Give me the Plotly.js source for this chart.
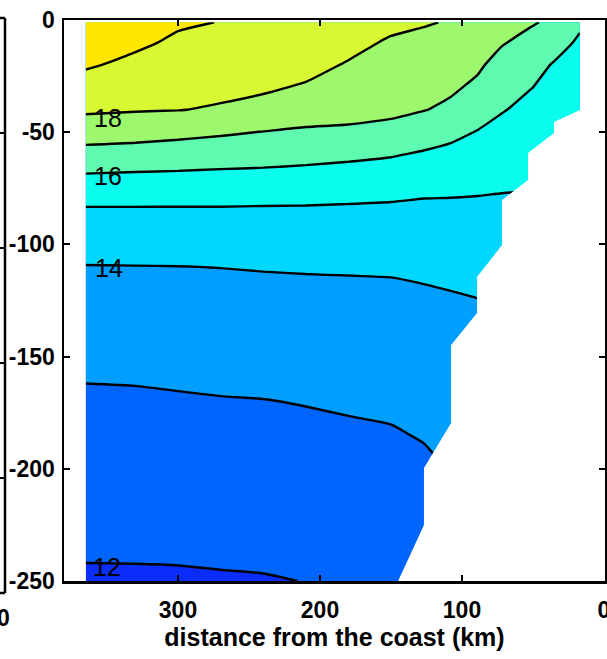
<!DOCTYPE html>
<html><head><meta charset="utf-8">
<script src="https://cdn.plot.ly/plotly-3.0.1.min.js"></script>
<style>html,body{margin:0;padding:0;background:#fff}#chart{width:607px;height:659px}</style>
</head><body><div id="chart"></div>
<script>
// distance from the coast (km) of each data column
const distKm = [365, 330, 300, 270, 240, 210, 180, 150, 127, 108, 89, 72, 53, 35, 17];
// depth (m) of each data row
const depthM = [-1, -10, -20, -30, -40, -50, -60, -70, -80, -90, -100, -110, -125, -140, -155, -170, -185, -200, -215, -230, -250];

// temperature (deg C) profiles, one per column (top to bottom)
const t365 = [19.60, 19.40, 19.10, 18.62, 18.14, 17.44, 16.66, 15.88, 15.22, 14.55, 14.33, 13.97, 13.69, 13.41, 13.13, 12.85, 12.71, 12.52, 12.34, 12.15, 11.90];
const t330 = [19.45, 19.16, 18.79, 18.43, 18.06, 17.37, 16.58, 15.83, 15.21, 14.57, 14.35, 13.98, 13.70, 13.42, 13.15, 12.87, 12.72, 12.53, 12.34, 12.16, 11.90];
const t300 = [19.11, 18.86, 18.57, 18.29, 18.02, 17.25, 16.50, 15.81, 15.20, 14.57, 14.37, 13.99, 13.72, 13.45, 13.18, 12.92, 12.75, 12.55, 12.36, 12.17, 11.91];
const t270 = [18.98, 18.74, 18.47, 18.19, 17.92, 17.12, 16.42, 15.77, 15.19, 14.60, 14.38, 14.01, 13.74, 13.48, 13.21, 12.96, 12.77, 12.57, 12.38, 12.18, 11.94];
const t240 = [18.85, 18.61, 18.35, 18.08, 17.81, 16.97, 16.36, 15.74, 15.17, 14.58, 14.39, 14.04, 13.76, 13.50, 13.25, 12.98, 12.79, 12.60, 12.40, 12.20, 11.96];
const t210 = [18.65, 18.43, 18.19, 17.94, 17.40, 16.88, 16.27, 15.69, 15.15, 14.59, 14.40, 14.06, 13.78, 13.53, 13.28, 13.03, 12.83, 12.63, 12.43, 12.23, 12.01];
const t180 = [18.40, 18.19, 17.95, 17.58, 17.23, 16.88, 16.17, 15.63, 15.10, 14.60, 14.41, 14.07, 13.80, 13.57, 13.33, 13.09, 12.88, 12.68, 12.48, 12.28, 12.05];
const t150 = [18.17, 17.92, 17.65, 17.38, 17.11, 16.84, 16.06, 15.55, 15.05, 14.60, 14.43, 14.11, 13.76, 13.61, 13.38, 13.15, 12.93, 12.73, 12.53, 12.33, 12.07];
const t127 = [18.06, 17.81, 17.54, 17.27, 17.03, 16.44, 15.90, 15.45, 14.98, 14.73, 14.46, 14.19, 13.82, 13.68, 13.47, 13.26, 13.05, 12.84, 12.63, 12.42, 12.14];
const t108 = [17.95, 17.69, 17.41, 17.12, 16.84, 16.22, 15.77, 15.36, 14.97, 14.73, 14.49, 14.25, 13.90, 13.74, 13.56, 13.40, 13.22, 13.04, 12.86, 12.68, 12.44];
const t89  = [17.65, 17.40, 17.12, 16.85, 16.38, 15.96, 15.63, 15.27, 14.95, 14.73, 14.52, 14.30, 13.98, 13.78, 13.60, 13.44, 13.28, 13.12, 12.96, 12.80, 12.58];
const t72  = [17.40, 17.06, 16.72, 16.38, 16.05, 15.75, 15.47, 15.18, 14.93, 14.74, 14.56, 14.37, 14.09, 13.86, 13.66, 13.48, 13.32, 13.16, 13.00, 12.84, 12.62];
const t53  = [17.10, 16.77, 16.41, 16.04, 15.80, 15.58, 15.36, 15.13, 14.93, 14.78, 14.62, 14.45, 14.20, 13.95, 13.75, 13.57, 13.40, 13.23, 13.06, 12.90, 12.68];
const t35  = [16.85, 16.39, 15.92, 15.80, 15.64, 15.48, 15.32, 15.16, 14.99, 14.85, 14.70, 14.55, 14.30, 14.05, 13.85, 13.66, 13.48, 13.30, 13.12, 12.95, 12.72];
const t17  = [16.17, 15.85, 15.75, 15.65, 15.55, 15.44, 15.32, 15.19, 15.06, 14.94, 14.80, 14.65, 14.40, 14.15, 13.95, 13.75, 13.56, 13.37, 13.18, 13.00, 12.76];

// sea floor / coast outline (masked area)
const coastDist   = [16.9, 16.9, 35.2, 35.2, 53.5, 53.5, 71.8, 71.8, 89.4, 89.4, 107.7, 107.7, 126.8, 126.8, 145, 152.3, -5, -5];
const bottomDepth = [5, -40.1, -45.5, -50.4, -59.3, -71.3, -80.2, -100.3, -114.5, -130.6, -144.8, -179.6, -199.6, -225, -250, -260, -260, 5];

// contour levels and their inline labels
const levelStart = 12, levelEnd = 19, levelStep = 1;
const labelText  = ['18', '16', '14', '12'];
const labelDist  = [349, 349, 348.5, 350];
const labelDepth = [-43.8, -69.5, -110.5, -243.6];

// band colours (below 12, 12-13, ..., 18-19, above 19)
const bandColors = ['rgb(10,45,250)', 'rgb(0,100,255)', 'rgb(0,158,255)', 'rgb(0,215,255)',
  'rgb(10,252,238)', 'rgb(94,250,175)', 'rgb(158,248,110)', 'rgb(215,248,50)', 'rgb(255,230,0)'];

const xTickVals = [300, 200, 100, 0];
const xTickText = ['300', '200', '100', '0'];
const yTickVals = [0, -50, -100, -150, -200, -250];
const yTickText = ['0', '-50', '-100', '-150', '-200', '-250'];

const columns = [t365, t330, t300, t270, t240, t210, t180, t150, t127, t108, t89, t72, t53, t35, t17];
const z = depthM.map((d, i) => columns.map(c => c[i]));
const colorscale = bandColors.map((c, k) => [k / (bandColors.length - 1), c]);

const traces = [
  {
    type: 'contour', x: distKm, y: depthM, z: z,
    autocontour: false,
    contours: {start: levelStart, end: levelEnd, size: levelStep, coloring: 'fill', showlines: true},
    line: {color: 'black', width: 2.4, smoothing: 0.5},
    colorscale: colorscale, showscale: false, hoverinfo: 'skip'
  },
  {
    type: 'scatter', mode: 'lines', x: coastDist, y: bottomDepth,
    fill: 'toself', fillcolor: 'white', line: {width: 0, color: 'white'},
    hoverinfo: 'skip', showlegend: false
  }
];

const F = 'Liberation Sans, Arial, Helvetica, sans-serif';
const annotations = labelText.map((t, i) => ({
  x: labelDist[i], y: labelDepth[i], xref: 'x', yref: 'y', text: t, showarrow: false,
  font: {family: F, size: 25, color: 'black'}, xanchor: 'center', yanchor: 'middle'
}));
// neighbouring panel's cut-off tick label
annotations.push({x: -0.1118, y: -0.066, xref: 'paper', yref: 'paper', text: '0', showarrow: false,
  font: {family: F, size: 23, color: 'black', weight: 'bold'}, xanchor: 'center', yanchor: 'middle'});

// neighbouring panel's frame edge (left of this panel)
const nx = -0.10906, nx0 = -0.1220, nxt = -0.1183;
const shapes = [
  {type: 'line', xref: 'paper', yref: 'paper', x0: nx, x1: nx, y0: 1.00357, y1: -0.02139, line: {color: 'black', width: 2.5}},
  {type: 'line', xref: 'paper', yref: 'paper', x0: nx0, x1: nx, y0: 1.00357, y1: 1.00357, line: {color: 'black', width: 2.5}},
  {type: 'line', xref: 'paper', yref: 'paper', x0: nx0, x1: nx, y0: -0.02139, y1: -0.02139, line: {color: 'black', width: 2.5}}
].concat([0.79857, 0.59358, 0.38859, 0.1836].map(v => ({type: 'line', xref: 'paper', yref: 'paper',
  x0: nxt, x1: nx, y0: v, y1: v, line: {color: 'black', width: 2}})));

const axisCommon = {
  tickmode: 'array', ticks: 'inside', ticklen: 6, tickwidth: 2, tickcolor: 'black',
  showline: true, linewidth: 2.5, linecolor: 'black', mirror: 'ticks',
  showgrid: false, zeroline: false, ticklabeloverflow: 'allow',
  tickfont: {family: F, size: 23, color: 'black', weight: 'bold'}
};

const layout = {
  width: 607, height: 659,
  margin: {l: 64, r: 2, t: 20, b: 78},
  paper_bgcolor: 'white', plot_bgcolor: 'white', showlegend: false,
  font: {family: F, color: 'black'},
  xaxis: Object.assign({}, axisCommon, {
    range: [380.3, -0.7], tickvals: xTickVals, ticktext: xTickText, ticklabelstandoff: 7,
    title: {text: 'distance from the coast (km)', font: {family: F, size: 25, color: 'black', weight: 'bold'}, standoff: 6}
  }),
  yaxis: Object.assign({}, axisCommon, {
    range: [-250, 0], tickvals: yTickVals, ticktext: yTickText, ticklabelstandoff: 2
  }),
  annotations: annotations,
  shapes: shapes
};

Plotly.newPlot('chart', traces, layout, {staticPlot: true, displayModeBar: false});
</script>
</body></html>
